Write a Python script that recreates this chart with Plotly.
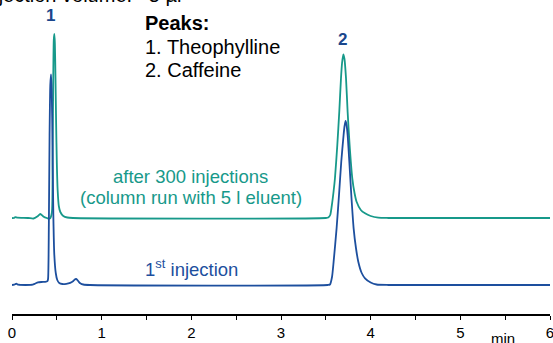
import plotly.graph_objects as go

# Chromatogram of the first injection (time in min, detector signal)
time_first = [0.000, 0.025, 0.048, 0.070, 0.150, 0.230, 0.260, 0.290, 0.330, 0.370,
              0.395, 0.402, 0.411, 0.419, 0.427, 0.435, 0.443, 0.452, 0.461, 0.472,
              0.488, 0.505, 0.527, 0.561, 0.606, 0.649, 0.684, 0.700, 0.714, 0.728,
              0.745, 0.765, 0.795, 0.870, 3.520, 3.546, 3.569, 3.587, 3.620, 3.647,
              3.672, 3.698, 3.709, 3.720, 3.731, 3.743, 3.762, 3.784, 3.810, 3.836,
              3.862, 3.900, 3.937, 4.000, 4.066, 4.200, 6.000]
signal_first = [0.0, 0.3, 1.3, 0.3, 0.0, 0.3, 1.5, 2.6, 3.0, 3.2,
                3.8, 6.0, 60.0, 150.0, 200.0, 210.7, 195.0, 140.0, 70.0, 30.0,
                12.0, 5.0, 2.0, 1.0, 1.2, 2.2, 4.0, 5.6, 6.0, 5.2,
                3.2, 1.5, 0.5, 0.0, 0.0, 0.5, 8.0, 23.3, 56.7, 90.0,
                123.3, 150.0, 159.0, 164.0, 160.0, 150.0, 123.3, 90.0, 56.7, 37.0,
                23.3, 12.0, 6.7, 2.5, 0.5, 0.0, 0.0]

# Chromatogram after 300 injections (5 l eluent through the column)
time_after = [0.000, 0.020, 0.037, 0.060, 0.180, 0.240, 0.282, 0.316, 0.349, 0.388,
              0.422, 0.444, 0.453, 0.461, 0.466, 0.472, 0.478, 0.485, 0.492, 0.500,
              0.509, 0.522, 0.539, 0.572, 0.617, 0.680, 3.500, 3.527, 3.549, 3.566,
              3.587, 3.602, 3.628, 3.650, 3.669, 3.681, 3.695, 3.708, 3.725, 3.743,
              3.765, 3.795, 3.820, 3.843, 3.890, 3.937, 4.000, 4.085, 4.200, 6.000]
signal_after = [0.0, 0.0, 0.8, 0.3, 0.0, -0.5, 1.5, 4.0, 1.5, 0.0,
                -0.5, 5.0, 60.0, 150.0, 178.0, 184.0, 175.0, 140.0, 95.0, 55.0,
                28.0, 12.0, 6.0, 2.0, 0.5, 0.0, 0.0, 0.5, 3.0, 12.0,
                27.0, 40.0, 73.0, 106.3, 139.7, 155.0, 163.7, 159.0, 139.7, 106.3,
                73.0, 39.7, 25.0, 16.3, 8.0, 4.7, 2.0, 0.3, 0.0, 0.0]
offset_after = 67.0  # vertical offset of the stacked trace

peak_numbers = ["1", "2"]
peak_label_times = [0.433, 3.687]
peak_names = ["Theophylline", "Caffeine"]
x_tick_values = [0, 1, 2, 3, 4, 5, 6]
x_tick_labels = ["0", "1", "2", "3", "4", "5", "6"]

TEAL = "#17998a"
BLUE = "#1d4f9e"
DARK_BLUE = "#1a468c"
FONT = "Liberation Sans, Arial, Helvetica, sans-serif"

W, H = 553, 343
L, R, T, B = 12, 3, 0, 29
PW, PH = W - L - R, H - T - B


def paper_x(px):
    return (px - L) / PW


def paper_y(py):
    return (T + PH - py) / PH


fig = go.Figure()
fig.add_trace(go.Scatter(
    x=time_after, y=[s + offset_after for s in signal_after],
    mode="lines", line=dict(color=TEAL, width=1.8, shape="spline", smoothing=0.6),
    hoverinfo="skip", showlegend=False))
fig.add_trace(go.Scatter(
    x=time_first, y=signal_first,
    mode="lines", line=dict(color=BLUE, width=1.8, shape="spline", smoothing=0.6),
    hoverinfo="skip", showlegend=False))

annotations = []
# header line partly above the page
annotations.append(dict(text="Injection volume:\u00a0\u00a0\u00a05 µl", x=paper_x(183), y=paper_y(8),
                        xref="paper", yref="paper", xanchor="right", yanchor="bottom",
                        showarrow=False, font=dict(family=FONT, size=20, color="black")))
# peak numbers
for num, t, py in zip(peak_numbers, peak_label_times, [16, 39.5]):
    annotations.append(dict(text="<b>%s</b>" % num, x=t, y=paper_y(py), xref="x", yref="paper",
                            xanchor="center", yanchor="middle", showarrow=False,
                            font=dict(family=FONT, size=17, color=DARK_BLUE)))
# peak list
annotations.append(dict(text="<b>Peaks:</b>", x=paper_x(142.5), y=paper_y(23), xref="paper", yref="paper",
                        xanchor="left", yanchor="middle", showarrow=False,
                        font=dict(family=FONT, size=20, color="black")))
for i, (name, py) in enumerate(zip(peak_names, [47, 70.3])):
    annotations.append(dict(text="%d. %s" % (i + 1, name), x=paper_x(142.5), y=paper_y(py),
                            xref="paper", yref="paper", xanchor="left", yanchor="middle",
                            showarrow=False, font=dict(family=FONT, size=20, color="black")))
# trace captions
annotations.append(dict(text="after 300 injections", x=paper_x(190.5), y=paper_y(176),
                        xref="paper", yref="paper", xanchor="center", yanchor="middle",
                        showarrow=False, font=dict(family=FONT, size=18.5, color=TEAL)))
annotations.append(dict(text="(column run with 5 l eluent)", x=paper_x(190.5), y=paper_y(197),
                        xref="paper", yref="paper", xanchor="center", yanchor="middle",
                        showarrow=False, font=dict(family=FONT, size=18.5, color=TEAL)))
annotations.append(dict(text="1<sup>st</sup> injection", x=paper_x(191), y=paper_y(268),
                        xref="paper", yref="paper", xanchor="center", yanchor="middle",
                        showarrow=False, font=dict(family=FONT, size=18.5, color=BLUE)))
# axis unit
annotations.append(dict(text="min", x=paper_x(503), y=paper_y(338), xref="paper", yref="paper",
                        xanchor="center", yanchor="middle", showarrow=False,
                        font=dict(family=FONT, size=15, color="black")))

fig.update_layout(
    width=W, height=H,
    margin=dict(l=L, r=R, t=T, b=B, pad=0),
    paper_bgcolor="white", plot_bgcolor="white",
    font=dict(family=FONT, color="black"),
    annotations=annotations,
    xaxis=dict(range=[0, 6], showgrid=False, zeroline=False, showline=True,
               linecolor="black", linewidth=1.5, ticks="outside", ticklen=4,
               tickwidth=1.3, tickcolor="black", tickvals=x_tick_values,
               ticktext=x_tick_labels, tickfont=dict(family=FONT, size=15, color="black"),
               ticklabeloverflow="allow",
               minor=dict(dtick=0.5, ticks="outside", ticklen=4, tickwidth=1.3, tickcolor="black",
                          showgrid=False),
               automargin=False, fixedrange=True),
    yaxis=dict(range=[-29, 285], visible=False, showgrid=False, zeroline=False,
               automargin=False, fixedrange=True),
)

fig.write_html("out.html")
